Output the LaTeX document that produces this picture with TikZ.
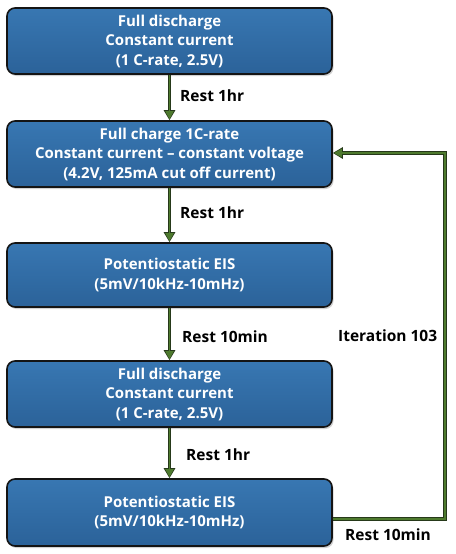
\documentclass[tikz,border=0pt]{standalone}
\usepackage{fontspec}
\setmainfont{Open Sans}
\usetikzlibrary{arrows.meta,shadows}
\definecolor{boxblue}{HTML}{2B6299}
\definecolor{boxtop}{HTML}{3877B2}
\definecolor{boxedge}{HTML}{141414}
\definecolor{arrgreen}{HTML}{4E7A2E}
\definecolor{arrdark}{HTML}{26391A}
\tikzset{
  stepbox/.style={rectangle, rounded corners=8pt, draw=boxedge, line width=1.6pt,
    top color=boxtop, bottom color=boxblue, minimum width=325pt, inner sep=2pt,
    text=white, align=center, font=\fontsize{15}{19.5}\selectfont\bfseries,
    drop shadow={shadow xshift=1.5pt, shadow yshift=-2pt, opacity=0.35}},
  connout/.style={draw=arrdark, line width=3.6pt, -{Triangle[length=10pt,width=11pt]}},
  connin/.style={draw=arrgreen, line width=1.8pt, -{Triangle[length=8pt,width=8pt]}, shorten >=1pt},
  lbl/.style={anchor=west, font=\fontsize{15.5}{18}\selectfont\bfseries, text=black, inner sep=0pt}
}
\begin{document}
\begin{tikzpicture}[x=1pt,y=-1pt]
\useasboundingbox[fill=white] (0,0) rectangle (455,554);
\node[stepbox, minimum height=66pt] (b1) at (169.5,41) {Full discharge\\Constant current\\(1 C-rate, 2.5V)};
\node[stepbox, minimum height=66pt] (b2) at (169.5,154) {Full charge 1C-rate\\Constant current -- constant voltage\\(4.2V, 125mA cut off current)};
\node[stepbox, minimum height=64pt] (b3) at (169.5,275) {Potentiostatic EIS\\(5mV/10kHz-10mHz)};
\node[stepbox, minimum height=66pt] (b4) at (169.5,394) {Full discharge\\Constant current\\(1 C-rate, 2.5V)};
\node[stepbox, minimum height=67pt] (b5) at (169.5,512.5) {Potentiostatic EIS\\(5mV/10kHz-10mHz)};
\coordinate (c1) at (445,519);
\coordinate (c2) at (445,153);
% connectors
\foreach \a/\b in {b1/b2,b2/b3,b3/b4,b4/b5}{
  \draw[connout] (\a.south) -- (\b.north);
  \draw[connin] (\a.south) -- (\b.north);
}
\draw[connout] (b5.east |- c1) -- (c1) -- (c2) -- (b2.east |- c2);
\draw[connin] (b5.east |- c1) -- (c1) -- (c2) -- (b2.east |- c2);
% labels
\node[lbl] (l1) at (180,96) {Rest 1hr};
\node[lbl] (l2) at (180,213) {Rest 1hr};
\node[lbl] (l3) at (182,337) {Rest 10min};
\node[lbl] (l4) at (338,336) {Iteration 103};
\node[lbl] (l5) at (186,455) {Rest 1hr};
\node[lbl] (l6) at (345,535) {Rest 10min};
\end{tikzpicture}
\end{document}
